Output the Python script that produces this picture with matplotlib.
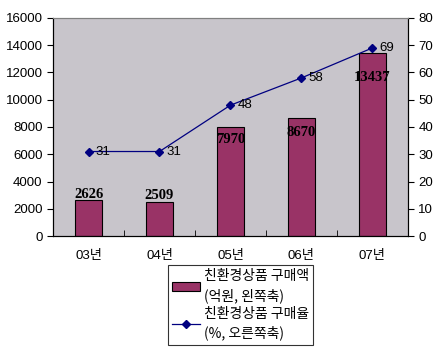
import matplotlib.pyplot as plt
import numpy as np

plt.rcParams['font.family'] = ['Liberation Sans', 'Noto Sans CJK KR', 'DejaVu Sans']

# データ
years = ["03년", "04년", "05년", "06년", "07년"]
amount = [2626, 2509, 7970, 8670, 13437]      # 구매액 (억원)
rate = [31, 31, 48, 58, 69]                   # 구매율 (%)
label_dy = [6, 6, -12, -15, -25]              # 막대 라벨 위치 (px)

x = np.arange(len(years))

fig = plt.figure(figsize=(4.4, 3.52), dpi=100)
ax = fig.add_axes([0.1205, 0.3295, 0.8065, 0.6195])
ax.set_facecolor("#C8C5CB")

bars = ax.bar(x, amount, width=0.38, color="#993366", edgecolor="black",
              linewidth=0.8, label="친환경상품 구매액\n(억원, 왼쪽축)", zorder=2)
for xi, v, dy in zip(x, amount, label_dy):
    ax.annotate(str(v), (xi, v), xytext=(0, dy), textcoords="offset pixels",
                ha="center", va="center", fontsize=10.5, fontweight="bold",
                family="Liberation Serif", zorder=5)

ax.set_xlim(-0.5, len(years) - 0.5)
ax.set_ylim(0, 16000)
ax.set_yticks(range(0, 16001, 2000))
ax.set_xticks(x)
ax.set_xticklabels(years, fontsize=9.5)
ax.set_xticks(np.arange(-0.5, len(years), 1), minor=True)
ax.tick_params(axis="x", which="major", length=0, pad=10)
ax.tick_params(axis="x", which="minor", length=4, direction="in")
ax.tick_params(axis="y", labelsize=9.5, length=4, direction="out")

ax2 = ax.twinx()
ln, = ax2.plot(x, rate, color="#000080", linewidth=0.9, marker="D",
               markersize=4, label="친환경상품 구매율\n(%, 오른쪽축)", zorder=3)
for xi, r in zip(x, rate):
    ax2.annotate(str(r), (xi, r), xytext=(5, 0), textcoords="offset points",
                 ha="left", va="center", fontsize=9.5)
ax2.set_ylim(0, 80)
ax2.set_yticks(range(0, 81, 10))
ax2.tick_params(axis="y", labelsize=9.5, length=4, direction="out")

for a in (ax, ax2):
    a.spines["top"].set_color("#808080")
    a.spines["top"].set_linewidth(0.8)
    for s in ("left", "bottom", "right"):
        a.spines[s].set_linewidth(0.8)

leg = fig.legend(handles=[bars, ln], loc="upper left",
                 bbox_to_anchor=(168 / 440, 1 - 265 / 352),
                 frameon=True, fancybox=False, edgecolor="black",
                 borderpad=0.3, handlelength=2.0, handletextpad=0.3,
                 labelspacing=0.3, borderaxespad=0,
                 prop={"family": ["Noto Sans CJK KR"], "size": 10})
leg.get_frame().set_linewidth(0.8)
for t in leg.get_texts():
    t.set_linespacing(1.4)

fig.savefig("out.png", dpi=100)
